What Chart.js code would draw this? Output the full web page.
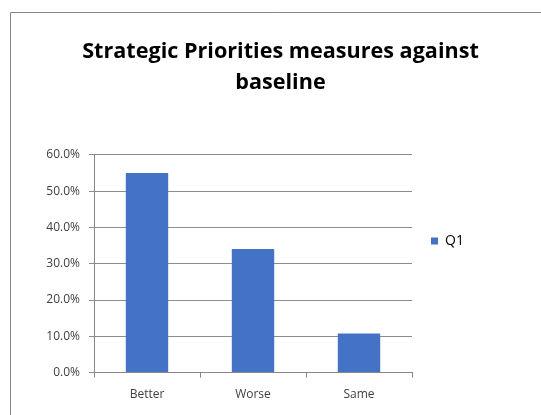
<!DOCTYPE html>
<html>
<head>
<meta charset="utf-8">
<script src="https://cdn.jsdelivr.net/npm/chart.js@4/dist/chart.umd.min.js"></script>
<style>
html,body{margin:0;padding:0;background:#fff;}
#wrap{width:541px;height:415px;position:relative;}
</style>
</head>
<body>
<div id="wrap"><canvas id="c" width="541" height="415"></canvas></div>
<script>
const categories = ['Better', 'Worse', 'Same'];
const seriesName = 'Q1';
const q1Values = [55.0, 34.1, 10.8];
const titleLines = ['Strategic Priorities measures against', 'baseline'];

const frame = {
  id: 'frame',
  beforeDraw(chart) {
    const ctx = chart.ctx;
    ctx.save();
    ctx.fillStyle = '#fff';
    ctx.fillRect(0, 0, chart.width, chart.height);
    ctx.strokeStyle = '#868686';
    ctx.lineWidth = 1;
    ctx.beginPath();
    ctx.moveTo(10.5, chart.height + 2);
    ctx.lineTo(10.5, 12.5);
    ctx.lineTo(chart.width + 2, 12.5);
    ctx.stroke();
    ctx.restore();
  }
};

const legendFix = {
  id: 'legendFix',
  beforeLayout(chart) {
    const lg = chart.legend;
    if (lg && !lg._patched) {
      const orig = lg.fit;
      lg.fit = function () { orig.call(this); this.width = 109; };
      lg._patched = true;
    }
  },
  afterLayout(chart) {
    const lg = chart.legend;
    if (lg) { lg.top += 25; lg.bottom += 25; }
  }
};

new Chart(document.getElementById('c'), {
  type: 'bar',
  data: {
    labels: categories,
    datasets: [{
      label: seriesName,
      data: q1Values,
      backgroundColor: '#4472C4',
      borderWidth: 0,
      barPercentage: 0.4,
      categoryPercentage: 1.0
    }]
  },
  plugins: [frame, legendFix],
  options: {
    responsive: false,
    animation: false,
    devicePixelRatio: 1,
    layout: { padding: { left: 40, right: 20, top: 20, bottom: 3 } },
    plugins: {
      title: {
        display: true,
        text: titleLines,
        color: '#000',
        font: { family: 'Open Sans', size: 21.6, weight: 'bold', lineHeight: 1.4 },
        padding: { top: 17, bottom: 57.5 }
      },
      legend: {
        display: true,
        position: 'right',
        labels: {
          boxWidth: 7,
          boxHeight: 7,
          padding: 19,
          color: '#000',
          font: { family: 'Open Sans', size: 14 }
        }
      },
      tooltip: { enabled: false }
    },
    scales: {
      x: {
        grid: {
          display: true,
          drawOnChartArea: false,
          drawTicks: true,
          tickLength: 5,
          color: '#868686',
          offset: true
        },
        border: { display: true, color: '#868686' },
        ticks: {
          color: '#404040',
          font: { family: 'Open Sans', size: 12 },
          padding: 10
        }
      },
      y: {
        min: 0,
        max: 60,
        afterFit(scale) { scale.width = 54; },
        grid: {
          color: '#8c8c8c',
          tickLength: 5,
          drawTicks: true
        },
        border: { display: true, color: '#868686' },
        ticks: {
          stepSize: 10,
          color: '#404040',
          font: { family: 'Open Sans', size: 12 },
          padding: 9,
          callback: v => v.toFixed(1) + '%'
        }
      }
    }
  }
});
</script>
</body>
</html>
